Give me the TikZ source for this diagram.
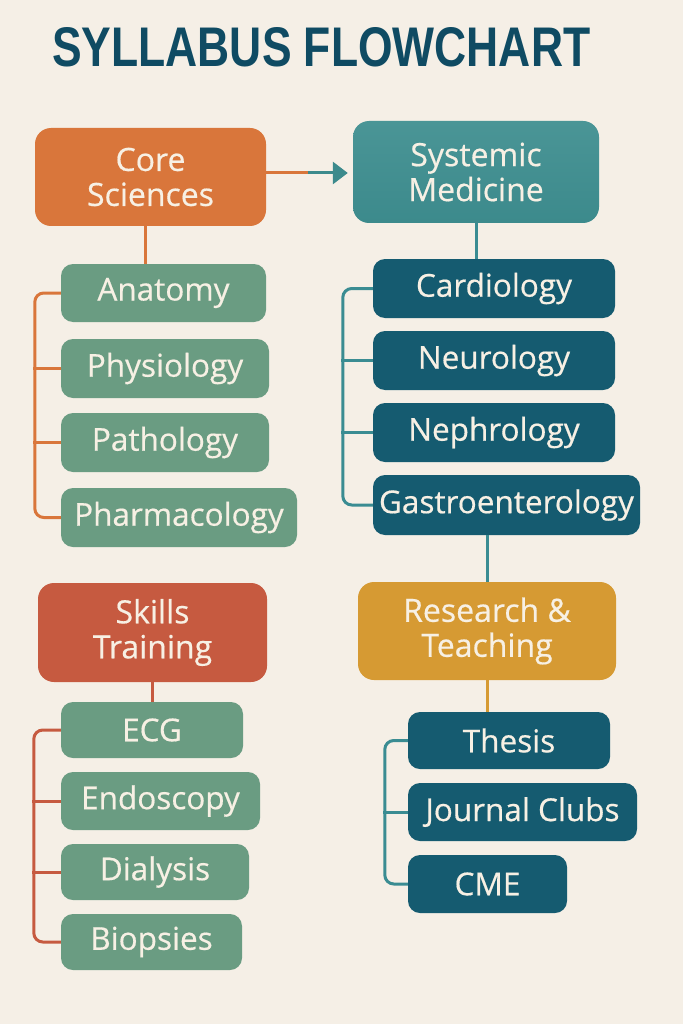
\documentclass[tikz,border=0pt]{standalone}
\usepackage{fontspec}
\setmainfont{Open Sans}[FakeBold=0.5]
\newfontfamily\titlefont{Liberation Sans}
\usetikzlibrary{arrows.meta}
\definecolor{bg}{HTML}{F5EFE6}
\definecolor{coreC}{HTML}{D9763B}
\definecolor{sysC}{HTML}{3C8A8C}
\definecolor{sysTop}{HTML}{4A9596}
\definecolor{itemG}{HTML}{6A9C82}
\definecolor{itemT}{HTML}{155B70}
\definecolor{resC}{HTML}{D69A33}
\definecolor{skillC}{HTML}{C65A40}
\definecolor{titleC}{HTML}{0F4B63}
\definecolor{brT}{HTML}{3A8C92}
\definecolor{txtC}{HTML}{F7F0E4}
\tikzset{
  hdr/.style={rounded corners=16pt, inner sep=0pt, text=txtC, align=center,
    font=\fontsize{32}{35}\selectfont},
  itm/.style={rounded corners=12pt, inner sep=0pt, text=txtC,
    font=\fontsize{31.5}{34}\selectfont},
  green/.style={itm, fill=itemG},
  dteal/.style={itm, fill=itemT},
  conn/.style={line width=3pt},
  brk/.style={line width=3pt, rounded corners=9pt},
}
\begin{document}
\begin{tikzpicture}[x=1pt,y=-1pt]
\fill[bg] (0,0) rectangle (683,1024);
\useasboundingbox (0,0) rectangle (683,1024);

\node[anchor=west, inner sep=0pt, text=titleC] (title) at (52,47)
  {\resizebox{538pt}{39pt}{\titlefont\bfseries SYLLABUS FLOWCHART}};

% headers
\node[hdr, fill=coreC, minimum width=231pt, minimum height=98pt] (core) at (150.5,177) {Core\\Sciences};
\node[hdr, top color=sysTop, bottom color=sysC, minimum width=246pt, minimum height=102pt] (sys) at (476,172) {Systemic\\Medicine};
\node[hdr, fill=skillC, minimum width=229pt, minimum height=99pt] (skills) at (152.5,632.5) {Skills\\Training};
\node[hdr, fill=resC, minimum width=258pt, minimum height=98pt] (res) at (487,631) {Research \&\\Teaching};

% core items
\node[green, minimum width=205pt, minimum height=58pt] (anat) at (163.5,293) {Anatomy};
\node[green, minimum width=208pt, minimum height=59pt] (phys) at (165,368.5) {Physiology};
\node[green, minimum width=208pt, minimum height=59pt] (path) at (165,442.5) {Pathology};
\node[green, minimum width=236pt, minimum height=59pt] (pharm) at (179,517.5) {Pharmacology};

% systemic items
\node[dteal, minimum width=242pt, minimum height=59pt] (card) at (494,288.5) {Cardiology};
\node[dteal, minimum width=242pt, minimum height=59pt] (neuro) at (494,360.5) {Neurology};
\node[dteal, minimum width=242pt, minimum height=59pt] (neph) at (494,432.5) {Nephrology};
\node[dteal, minimum width=267pt, minimum height=60pt] (gastro) at (506.5,505) {Gastroenterology};

% skills items
\node[green, minimum width=182pt, minimum height=56pt] (ecg) at (152,730) {ECG};
\node[green, minimum width=199pt, minimum height=58pt] (endo) at (160.5,801) {Endoscopy};
\node[green, minimum width=188pt, minimum height=56pt] (dial) at (155,872) {Dialysis};
\node[green, minimum width=181pt, minimum height=56pt] (biop) at (151.5,942) {Biopsies};

% research items
\node[dteal, minimum width=202pt, minimum height=57pt] (thesis) at (509,740.5) {Thesis};
\node[dteal, minimum width=229pt, minimum height=58pt] (journal) at (522.5,812) {Journal Clubs};
\node[dteal, minimum width=159pt, minimum height=58pt] (cme) at (487.5,884) {CME};

% arrow core -> systemic
\draw[conn, coreC] ([yshift=4pt]core.east) -- ++(42,0) coordinate (amid);
\draw[conn, sysC, -{Triangle[length=15pt,width=22pt]}] (amid) -- ([xshift=-5pt]amid -| sys.west);

% vertical connectors
\draw[conn, coreC] ([xshift=-5pt]core.south) -- ([xshift=-5pt]core.south |- anat.north);
\draw[conn, brT] (sys.south) -- (sys.south |- card.north);
\draw[conn, brT] (res.north |- gastro.south) -- (res.north);
\draw[conn, resC] (res.south) -- (res.south |- thesis.north);
\draw[conn, skillC] (skills.south) -- (skills.south |- ecg.north);

% brackets
\draw[brk, coreC] (anat.west) -- ++(-26,0) |- (pharm.west);
\draw[conn, coreC] (phys.west) -- ++(-27.5,0);
\draw[conn, coreC] (path.west) -- ++(-27.5,0);

\draw[brk, brT] (card.west) -- ++(-30,0) |- (gastro.west);
\draw[conn, brT] (neuro.west) -- ++(-31.5,0);
\draw[conn, brT] (neph.west) -- ++(-31.5,0);

\draw[brk, skillC] (ecg.west) -- ++(-27,0) |- (biop.west);
\draw[conn, skillC] (endo.west) -- ++(-28.5,0);
\draw[conn, skillC] (dial.west) -- ++(-28.5,0);

\draw[brk, brT] (thesis.west) -- ++(-23,0) |- (cme.west);
\draw[conn, brT] (journal.west) -- ++(-24.5,0);
\end{tikzpicture}
\end{document}
